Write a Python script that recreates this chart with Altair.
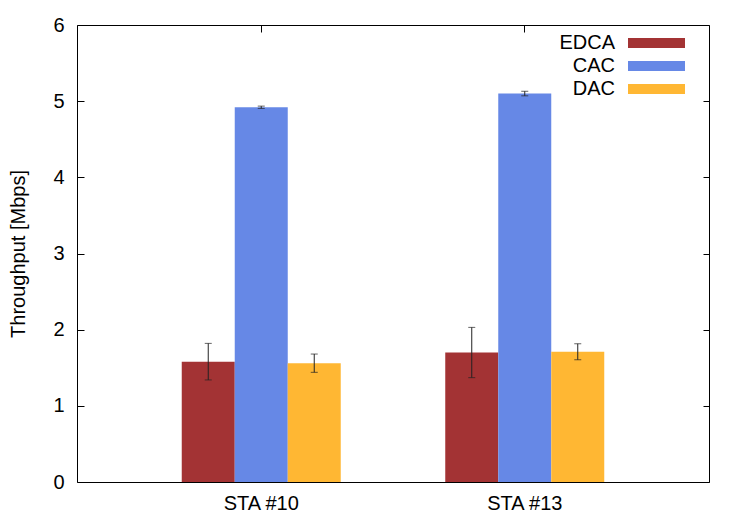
import altair as alt
import pandas as pd

stations = ["STA #10", "STA #13"]
schemes = ["EDCA", "CAC", "DAC"]
edca = [1.58, 1.70]
cac = [4.92, 5.10]
dac = [1.56, 1.71]
edca_err = [0.24, 0.33]
cac_err = [0.015, 0.03]
dac_err = [0.12, 0.105]
colors = ["#a33334", "#6688e6", "#ffb733"]
y_ticks = [0, 1, 2, 3, 4, 5, 6]

rows = []
for vals, errs, sch in [(edca, edca_err, "EDCA"), (cac, cac_err, "CAC"), (dac, dac_err, "DAC")]:
    for st, v, e in zip(stations, vals, errs):
        rows.append({"station": st, "scheme": sch, "value": v, "lo": v - e, "hi": v + e})
df = pd.DataFrame(rows)

FONT = "Liberation Sans"
FS = 20
x_scale = alt.Scale(domain=stations, paddingInner=0.3966, paddingOuter=0.3975)
xo = alt.XOffset("scheme:N", sort=schemes,
                 scale=alt.Scale(domain=schemes, paddingInner=0, paddingOuter=0))
y_scale = alt.Scale(domain=[0, 6], nice=False, zero=True)

# legend key: a wide flat box drawn to the right of its anchor, so the label sits on its left
KEY_PATH = "M2.3,-0.5L8.0,-0.5L8.0,0.5L2.3,0.5Z"

base = alt.Chart(df)

bars = base.mark_bar(stroke=None).encode(
    x=alt.X("station:N", sort=stations, scale=x_scale,
            axis=alt.Axis(title=None, labelAngle=0, ticks=False, domain=False, grid=False,
                          labelFontSize=FS, labelPadding=11, labelColor="#000")),
    xOffset=xo,
    y=alt.Y("value:Q", scale=y_scale,
            axis=alt.Axis(title="Throughput [Mbps]", values=y_ticks, ticks=False, domain=False,
                          grid=False, labelFontSize=FS, labelPadding=13, labelColor="#000",
                          titleFontSize=FS, titleFontWeight="normal", titleColor="#000",
                          titlePadding=24)),
    color=alt.Color("scheme:N", sort=schemes,
                    scale=alt.Scale(domain=schemes, range=colors),
                    legend=alt.Legend(title=None, orient="none", legendX=478, legendY=8,
                                      labelFontSize=FS, labelColor="#000", labelAlign="right",
                                      labelOffset=0, symbolOffset=40,
                                      symbolType=KEY_PATH,
                                      symbolSize=400, symbolStrokeWidth=0, symbolOpacity=1,
                                      rowPadding=3, padding=0)),
)

rules = base.mark_rule(color="#222", strokeWidth=1).encode(
    x=alt.X("station:N", sort=stations, scale=x_scale,
            axis=alt.Axis(orient="top", title=None, labels=False, domain=False, grid=False,
                          ticks=True, tickSize=7, offset=-7, tickColor="#000")),
    xOffset=xo,
    y=alt.Y("lo:Q", scale=y_scale,
            axis=alt.Axis(orient="right", title=None, values=y_ticks, labels=False, domain=False,
                          grid=False, ticks=True, tickSize=6, offset=-6, tickColor="#000")),
    y2="hi:Q",
)

caps_lo = base.mark_tick(color="#222", thickness=1, size=7).encode(
    x=alt.X("station:N", sort=stations, scale=x_scale, axis=None),
    xOffset=xo,
    y=alt.Y("lo:Q", scale=y_scale,
            axis=alt.Axis(orient="left", title=None, values=y_ticks, labels=False, domain=False,
                          grid=False, ticks=True, tickSize=7, offset=-7, tickColor="#000")),
)

caps_hi = base.mark_tick(color="#222", thickness=1, size=7).encode(
    x=alt.X("station:N", sort=stations, scale=x_scale, axis=None),
    xOffset=xo,
    y=alt.Y("hi:Q", scale=y_scale, axis=None),
)

chart = alt.layer(bars, rules, caps_lo, caps_hi).resolve_axis(
    x="independent", y="independent"
).properties(
    width=632, height=457, autosize="none",
    padding={"left": 69, "top": 17, "right": 30, "bottom": 40},
).configure(font=FONT).configure_view(stroke="#000", strokeWidth=1)

chart.save("out.html", embed_options={"renderer": "svg", "actions": False})
